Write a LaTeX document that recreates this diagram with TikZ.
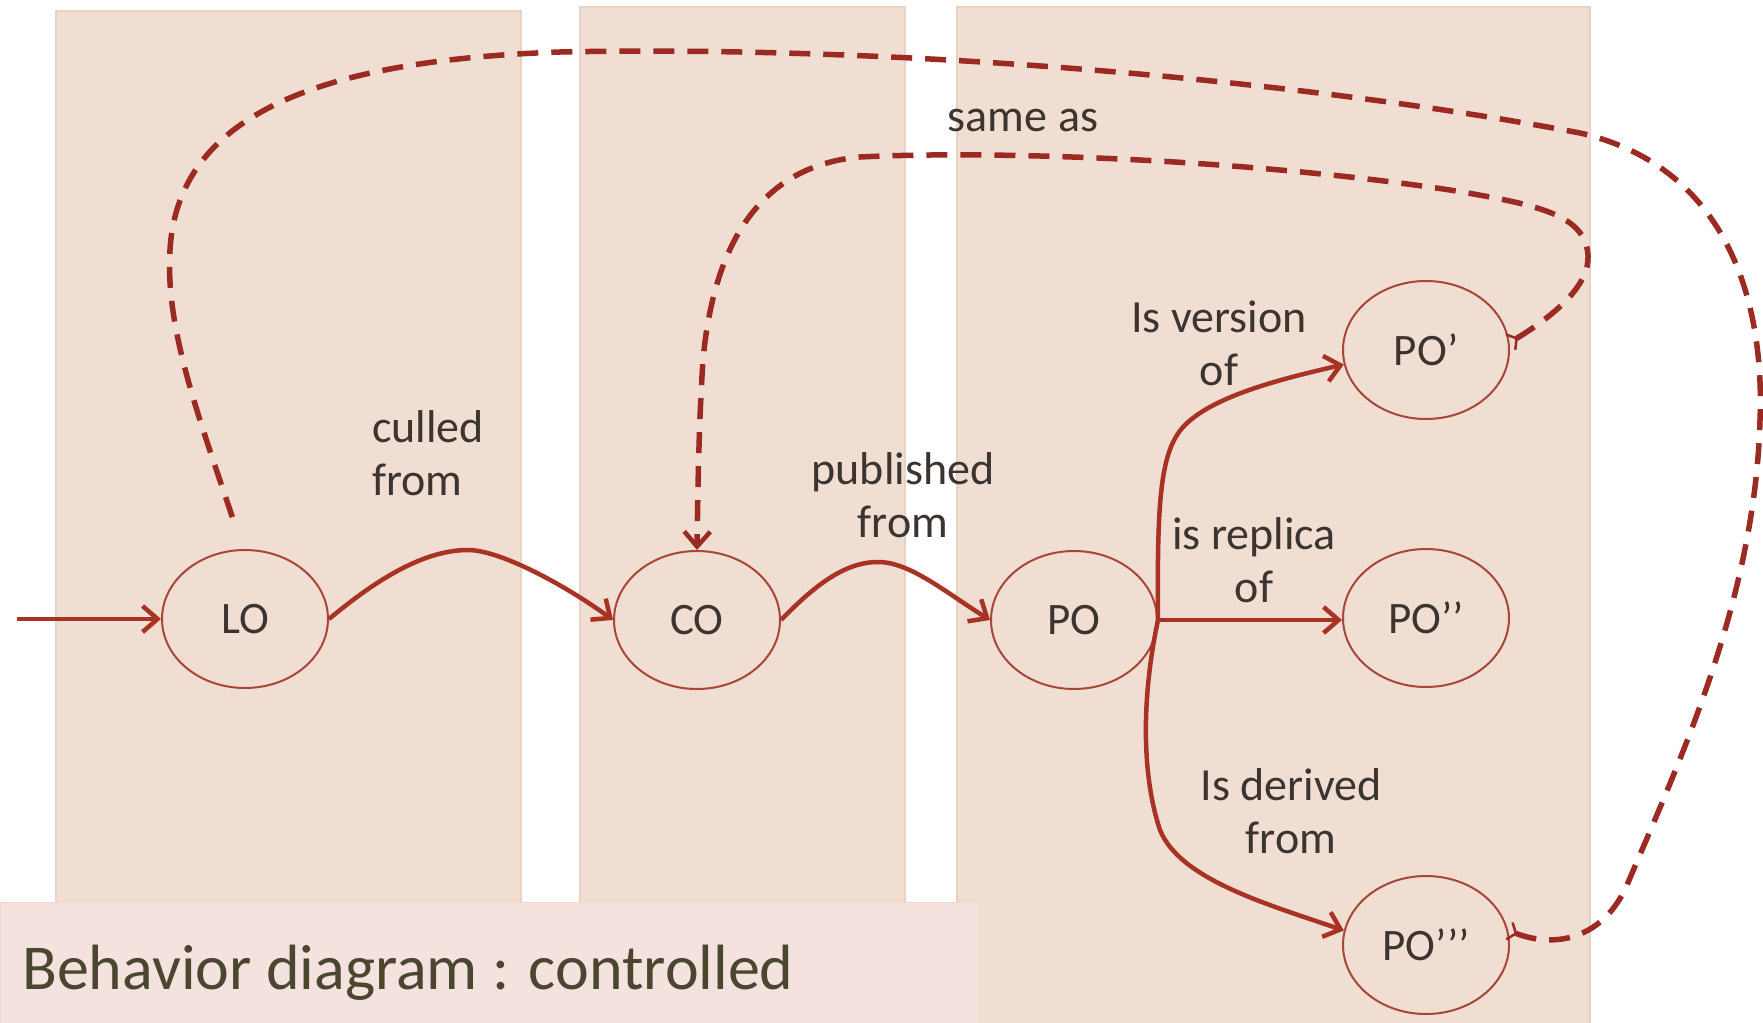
\documentclass[tikz,border=0pt]{standalone}
\usepackage{fontspec}
\setmainfont{Carlito}
\usetikzlibrary{shapes.geometric,arrows.meta}
\definecolor{panel}{HTML}{EFDED1}
\definecolor{paneledge}{HTML}{E8D2C4}
\definecolor{titlebg}{HTML}{F4E2DF}
\definecolor{titleedge}{HTML}{EFD6CB}
\definecolor{titletext}{HTML}{4B4630}
\definecolor{labeltext}{HTML}{3B3430}
\definecolor{nodeedge}{HTML}{A8463A}
\definecolor{flow}{HTML}{A83223}
\definecolor{link}{HTML}{9A2A22}

\tikzset{
  tailmark/.tip={Straight Barb[reversed,length=7pt,width=18pt,line width=2.5pt]},
  headmark/.tip={Straight Barb[length=15pt,width=26pt,line width=4.5pt]}
}

\begin{document}
\begin{tikzpicture}[x=1pt,y=-1pt,
  obj/.style={ellipse, draw=nodeedge, line width=2pt, minimum width=166pt,
    minimum height=138pt, inner sep=0pt, font=\fontsize{45}{54}\selectfont, text=labeltext},
  rel/.style={font=\fontsize{46}{53}\selectfont, text=labeltext, align=center, inner sep=0pt},
  flowline/.style={draw=flow, line width=4.5pt, -{headmark}},
  sameas/.style={draw=link, line width=5.5pt, dash pattern=on 21pt off 13pt},
  lane/.style={fill=panel, draw=paneledge, line width=1.5pt}
]
\useasboundingbox (0,0) rectangle (1763,1022);
\fill[white] (0,0) rectangle (1763,1022);

% swimlanes
\path[lane] (56,11) rectangle (521,1030);
\path[lane] (580,7) rectangle (905,1030);
\path[lane] (957,7) rectangle (1590,1030);

% caption box
\path[fill=titlebg, draw=titleedge, line width=1pt] (0,902) rectangle (979,1030);
\node[anchor=base west, font=\fontsize{64}{77}\selectfont, text=titletext, inner sep=0pt]
  (title) at (22,989) {Behavior diagram : controlled};

% objects
\node[obj] (LO)  at (245,619)  {LO};
\node[obj] (CO)  at (697,620)  {CO};
\node[obj] (PO)  at (1074,620) {PO};
\node[obj] (POa) at (1426,350) {PO’};
\node[obj] (POb) at (1426,618) {PO’’};
\node[obj] (POc) at (1426,945) {PO’’’};

% relation labels
\node[rel, anchor=west, align=left] (culled) at (372,453) {culled\\from};
\node[rel] (published) at (903,495) {published\\from};
\node[rel] (same)      at (1023,120) {same as};
\node[rel] (version)   at (1219,343) {Is version\\of};
\node[rel] (replica)   at (1254,560) {is replica\\of};
\node[rel] (derived)   at (1291,811) {Is derived\\from};

% main flow
\coordinate (entry) at (17,619);
\draw[flowline] (entry) -- (LO);
\draw[flowline] (LO.east) .. controls (370,585) and (420,550) .. (468,550)
  .. controls (500,550) and (565,585) .. (CO.west);
\draw[flowline] (CO.east) .. controls (815,585) and (845,562) .. (878,562)
  .. controls (910,562) and (945,592) .. (PO.west);
\draw[flowline] (PO.east) .. controls (1157,500) and (1160,450) .. (1185,425)
  .. controls (1215,395) and (1285,378) .. (POa.190);
\draw[flowline] (PO.east) -- (PO.east -| POb.west);
\draw[flowline] (PO.east) .. controls (1143,690) and (1140,770) .. (1160,830)
  .. controls (1180,880) and (1270,905) .. (POc.170);

% "same as" links
\coordinate (loTail) at (236,528);
\draw[sameas, {tailmark}-] (POc.10) .. controls (1560,950) and (1605,935) .. (1627,885)
  .. controls (1680,760) and (1755,600) .. (1760,420)
  .. controls (1765,290) and (1720,165) .. (1580,133)
  .. controls (1300,80) and (900,45) .. (560,52)
  .. controls (330,60) and (178,110) .. (170,250)
  .. controls (165,330) and (200,420) .. (loTail);
\draw[sameas, {tailmark}-{headmark}]
  (POa.5) .. controls (1555,315) and (1590,285) .. (1588,255)
  .. controls (1585,215) and (1540,205) .. (1450,190)
  .. controls (1250,160) and (1000,150) .. (860,157)
  .. controls (770,165) and (715,230) .. (703,360)
  .. controls (699,420) and (698,480) .. (CO.north);
\end{tikzpicture}
\end{document}
